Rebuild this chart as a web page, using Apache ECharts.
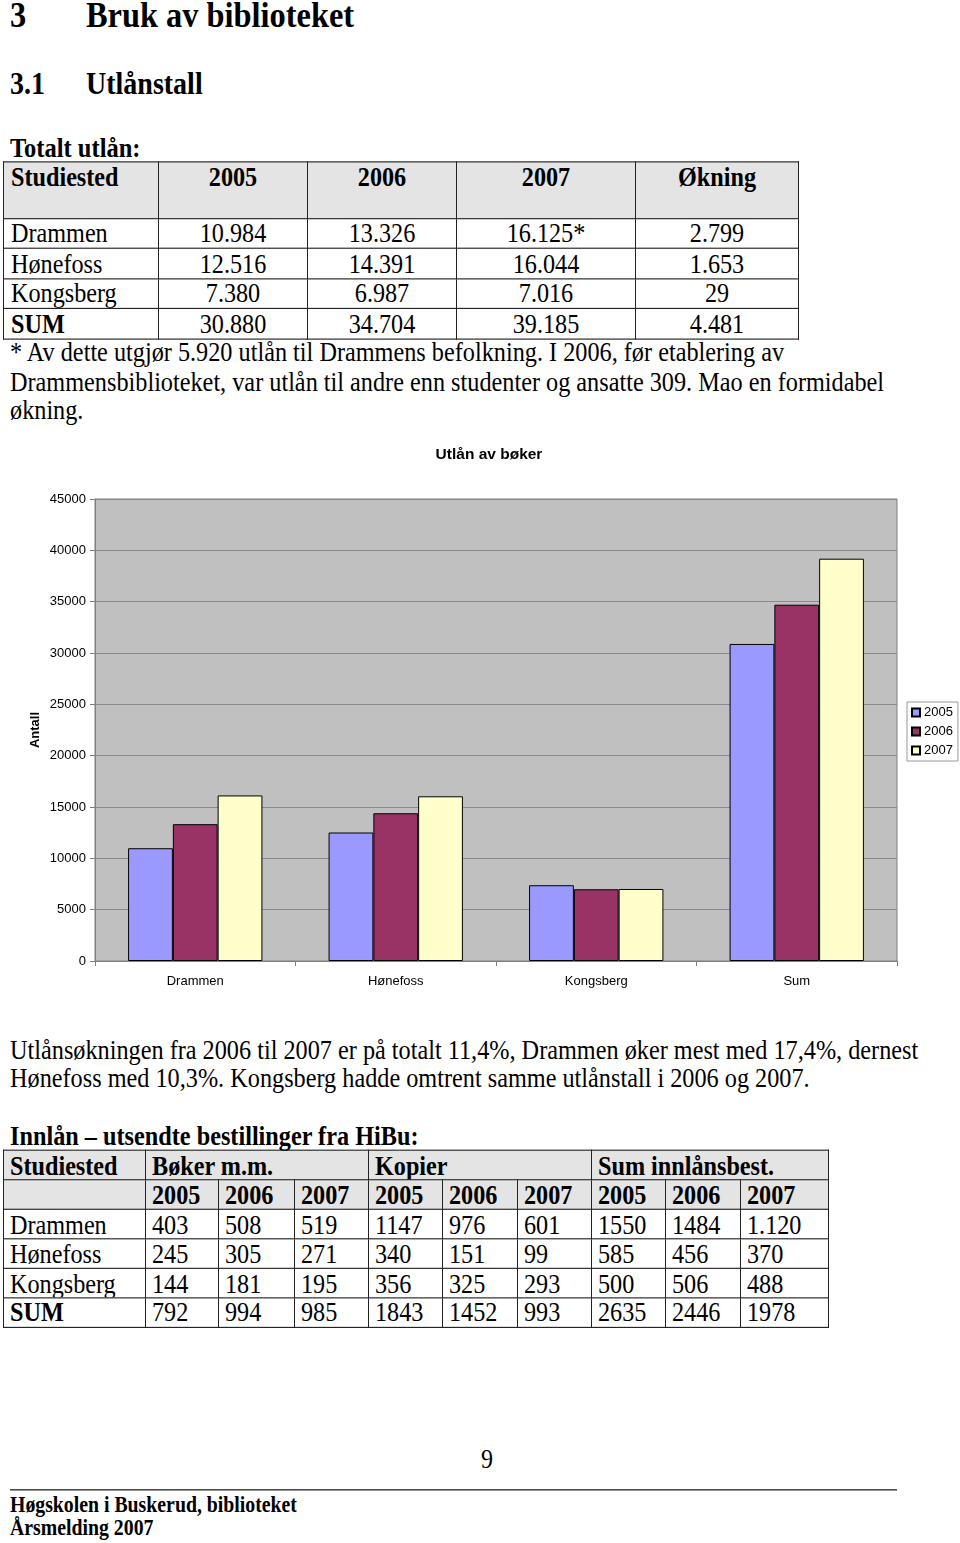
<!DOCTYPE html>
<html>
<head>
<meta charset="utf-8">
<script src="https://cdn.jsdelivr.net/npm/echarts@6/dist/echarts.min.js"></script>
<style>
html,body{margin:0;padding:0;background:#fff;}
body{width:960px;height:1543px;position:relative;overflow:hidden;}
#page{position:absolute;left:0;top:0;width:960px;height:1358.3px;transform:scaleY(1.136);transform-origin:0 0;font-family:"Liberation Serif","Times New Roman",serif;color:#000;}
.t{position:absolute;white-space:nowrap;line-height:1;top:calc(var(--y) * 1px / 1.136);}
.b{font-weight:bold;}
table{position:absolute;border-collapse:collapse;table-layout:fixed;font-size:24.2px;line-height:1;}
td{border:1px solid #222;padding:0;overflow:hidden;white-space:nowrap;}
#t1{left:3px;top:calc(161px / 1.136);}
#t1 td{height:calc(30px / 1.136 - 1px);text-align:center;vertical-align:middle;}
#t1 tr.h td{height:calc(57px / 1.136 - 2.5px);vertical-align:top;padding-top:1.5px;background:#e4e4e4;font-weight:bold;}
#t1 td.l{text-align:left;padding-left:7px;}
#t2{left:3px;top:calc(1150px / 1.136);}
#t2 td{height:calc(29.5px / 1.136 - 1px);text-align:left;padding-left:6px;vertical-align:middle;}
#t2 tr.h td{background:#e4e4e4;font-weight:bold;}
#chart{position:absolute;left:0;top:430px;width:960px;height:580px;}
</style>
</head>
<body>
<div id="page">
  <div class="t b" style="--y:-3.4;left:10px;font-size:32.4px;">3</div>
  <div class="t b" style="--y:-3.4;left:86px;font-size:32.4px;">Bruk av biblioteket</div>
  <div class="t b" style="--y:68;left:10px;font-size:28px;">3.1</div>
  <div class="t b" style="--y:68;left:86px;font-size:28px;">Utlånstall</div>
  <div class="t b" style="--y:134;left:10px;font-size:24.5px;">Totalt utlån:</div>

  <table id="t1">
    <colgroup><col style="width:155px"><col style="width:149px"><col style="width:149px"><col style="width:179px"><col style="width:163px"></colgroup>
    <tr class="h"><td class="l">Studiested</td><td>2005</td><td>2006</td><td>2007</td><td>Økning</td></tr>
    <tr><td class="l">Drammen</td><td>10.984</td><td>13.326</td><td>16.125*</td><td>2.799</td></tr>
    <tr><td class="l">Hønefoss</td><td>12.516</td><td>14.391</td><td>16.044</td><td>1.653</td></tr>
    <tr><td class="l">Kongsberg</td><td>7.380</td><td>6.987</td><td>7.016</td><td>29</td></tr>
    <tr><td class="l b">SUM</td><td>30.880</td><td>34.704</td><td>39.185</td><td>4.481</td></tr>
  </table>

  <div class="t" style="--y:339;left:10px;font-size:24.25px;">* Av dette utgjør 5.920 utlån til Drammens befolkning. I 2006, før etablering av</div>
  <div class="t" style="--y:368;left:10px;font-size:24.25px;">Drammensbiblioteket, var utlån til andre enn studenter og ansatte 309. Mao en formidabel</div>
  <div class="t" style="--y:396;left:10px;font-size:24.25px;">økning.</div>

  <div class="t" style="--y:1036;left:10px;font-size:24.25px;">Utlånsøkningen fra 2006 til 2007 er på totalt 11,4%, Drammen øker mest med 17,4%, dernest</div>
  <div class="t" style="--y:1064;left:10px;font-size:24.25px;">Hønefoss med 10,3%. Kongsberg hadde omtrent samme utlånstall i 2006 og 2007.</div>

  <div class="t b" style="--y:1122;left:10px;font-size:24.25px;">Innlån – utsendte bestillinger fra HiBu:</div>

  <table id="t2">
    <colgroup><col style="width:142px"><col style="width:73px"><col style="width:76px"><col style="width:74px"><col style="width:74px"><col style="width:75px"><col style="width:74px"><col style="width:74px"><col style="width:75px"><col style="width:88px"></colgroup>
    <tr class="h"><td>Studiested</td><td colspan="3">Bøker m.m.</td><td colspan="3">Kopier</td><td colspan="3">Sum innlånsbest.</td></tr>
    <tr class="h"><td></td><td>2005</td><td>2006</td><td>2007</td><td>2005</td><td>2006</td><td>2007</td><td>2005</td><td>2006</td><td>2007</td></tr>
    <tr><td>Drammen</td><td>403</td><td>508</td><td>519</td><td>1147</td><td>976</td><td>601</td><td>1550</td><td>1484</td><td>1.120</td></tr>
    <tr><td>Hønefoss</td><td>245</td><td>305</td><td>271</td><td>340</td><td>151</td><td>99</td><td>585</td><td>456</td><td>370</td></tr>
    <tr><td>Kongsberg</td><td>144</td><td>181</td><td>195</td><td>356</td><td>325</td><td>293</td><td>500</td><td>506</td><td>488</td></tr>
    <tr><td class="b">SUM</td><td>792</td><td>994</td><td>985</td><td>1843</td><td>1452</td><td>993</td><td>2635</td><td>2446</td><td>1978</td></tr>
  </table>

  <div class="t" style="--y:1445;left:481px;font-size:24px;">9</div>
  <div style="position:absolute;left:10px;width:887px;top:calc(1489px / 1.136);height:calc(2px / 1.136);background:#000;"></div>
  <div class="t b" style="--y:1493.5;left:10px;font-size:19.8px;">Høgskolen i Buskerud, biblioteket</div>
  <div class="t b" style="--y:1516.5;left:10px;font-size:19.8px;">Årsmelding 2007</div>
</div>
<div id="chart"></div>
<script>
var categories = ['Drammen', 'Hønefoss', 'Kongsberg', 'Sum'];
var years = ['2005', '2006', '2007'];
var values2005 = [10984, 12516, 7380, 30880];
var values2006 = [13326, 14391, 6987, 34704];
var values2007 = [16125, 16044, 7016, 39185];
var colors = ['#9999FF', '#993366', '#FFFFCC'];
var yTicks = {min: 0, max: 45000, interval: 5000};

var chart = echarts.init(document.getElementById('chart'), null, {renderer: 'canvas'});
var font = '"Liberation Sans", Arial, sans-serif';
var seriesData = [values2005, values2006, values2007];
chart.setOption({
  animation: false,
  textStyle: {fontFamily: font, color: '#000'},
  title: {
    text: 'Utlån av bøker',
    left: 484, textAlign: 'center', top: 12,
    textStyle: {fontFamily: font, fontSize: 15.5, fontWeight: 'bold', color: '#000'}
  },
  grid: {
    left: 95, right: 63, top: 69, bottom: 49,
    show: true, backgroundColor: '#C0C0C0', borderColor: '#808080', borderWidth: 1
  },
  legend: {
    orient: 'vertical', left: 907, top: 272,
    backgroundColor: '#fff', borderColor: '#999', borderWidth: 1,
    padding: [4, 5, 4, 4], itemGap: 6, itemWidth: 8, itemHeight: 8,
    icon: 'rect',
    textStyle: {fontFamily: font, fontSize: 13, color: '#000', padding: [0, 0, 0, -1]},
    data: years
  },
  xAxis: {
    type: 'category', data: categories,
    axisLine: {lineStyle: {color: '#808080'}},
    axisTick: {show: true, length: 5, lineStyle: {color: '#808080'}},
    axisLabel: {fontFamily: font, fontSize: 13, color: '#000', margin: 14}
  },
  yAxis: {
    type: 'value', min: yTicks.min, max: yTicks.max, interval: yTicks.interval,
    name: 'Antall', nameLocation: 'middle', nameRotate: 90, nameGap: 53,
    nameMoveOverlap: false,
    nameTextStyle: {fontFamily: font, fontSize: 13, fontWeight: 'bold', color: '#000'},
    axisLine: {show: true, lineStyle: {color: '#808080'}},
    axisTick: {show: true, length: 5, lineStyle: {color: '#808080'}},
    axisLabel: {fontFamily: font, fontSize: 13, color: '#000', margin: 9,
      formatter: function (v) { return String(v); }},
    splitLine: {lineStyle: {color: '#8a8a8a', width: 1}}
  },
  series: years.map(function (y, i) {
    return {
      name: y, type: 'bar', data: seriesData[i],
      barGap: '0%', barCategoryGap: '33%',
      itemStyle: {color: colors[i], borderColor: '#000', borderWidth: 1}
    };
  })
});
</script>
</body>
</html>
